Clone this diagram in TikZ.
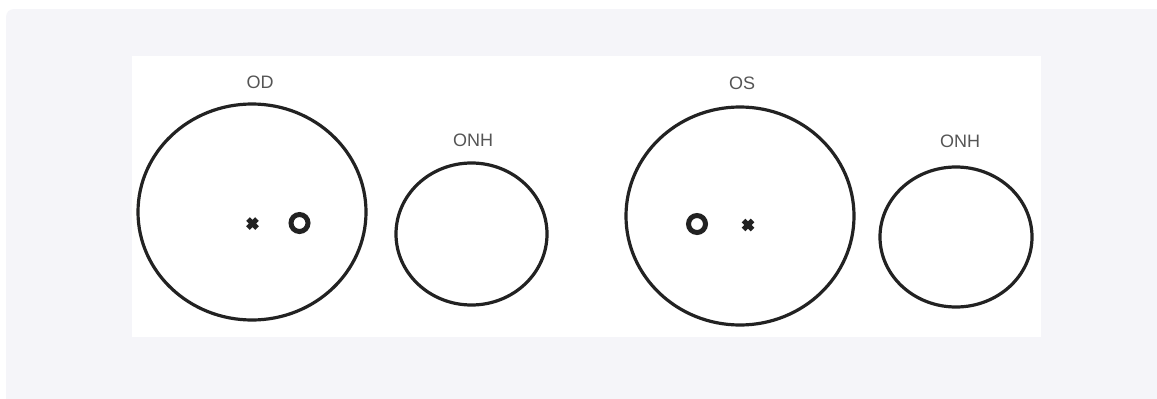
\documentclass[tikz,border=0pt]{standalone}
\usepackage{fontspec}
\setmainfont{Liberation Sans}
\usetikzlibrary{shapes.geometric,calc}
\definecolor{panel}{HTML}{F5F5F9}
\definecolor{ink}{HTML}{222222}
\definecolor{lbl}{HTML}{555555}
\begin{document}
\begin{tikzpicture}[x=1pt,y=-1pt,
  ring/.style={draw=ink,line width=3.2pt},
  lab/.style={text=lbl,font=\fontsize{18}{18}\selectfont,inner sep=0pt},
  dot/.style={draw=ink,line width=5pt},
  cross/.style={draw=ink,line width=5pt}]
\useasboundingbox (0,0) rectangle (1157,399);
\fill[white] (0,0) rectangle (1157,399);
\fill[panel,rounded corners=8pt] (6,9) rectangle (1170,410);
\fill[white] (132,56) rectangle (1041,337);
% OD
\node[ring,ellipse,minimum width=228pt,minimum height=216pt,inner sep=0pt] (od) at (252,212) {};
\node[lab] (odl) at (260,82) {OD};
\node[ring,ellipse,minimum width=151pt,minimum height=142pt,inner sep=0pt] (onh1) at (471.5,234) {};
\node[lab] (onh1l) at (473,140) {ONH};
% OS
\node[ring,ellipse,minimum width=228pt,minimum height=218pt,inner sep=0pt] (os) at (740,216) {};
\node[lab] (osl) at (742,83) {OS};
\node[ring,ellipse,minimum width=152pt,minimum height=140pt,inner sep=0pt] (onh2) at (956,237) {};
\node[lab] (onh2l) at (960,141) {ONH};
% markers
\coordinate (x1) at (252.5,223.5);
\draw[cross] ($(x1)+(-4.5,-4.5)$) -- ($(x1)+(4.5,4.5)$) ($(x1)+(-4.5,4.5)$) -- ($(x1)+(4.5,-4.5)$);
\node[dot,circle,minimum size=17pt,inner sep=0pt] (o1) at (299.5,223) {};
\node[dot,circle,minimum size=17pt,inner sep=0pt] (o2) at (697,224) {};
\coordinate (x2) at (748,225);
\draw[cross] ($(x2)+(-4.5,-4.5)$) -- ($(x2)+(4.5,4.5)$) ($(x2)+(-4.5,4.5)$) -- ($(x2)+(4.5,-4.5)$);
\end{tikzpicture}
\end{document}
